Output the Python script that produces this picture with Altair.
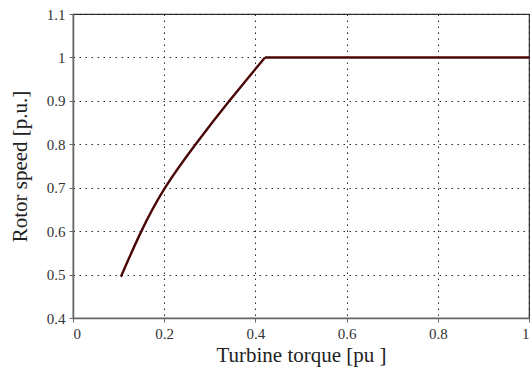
import altair as alt
import pandas as pd

# Rotor speed versus turbine torque (per unit)
ramp_torque = [0.105, 0.150, 0.202, 0.269, 0.343, 0.421]
ramp_speed = [0.495, 0.600, 0.700, 0.800, 0.900, 1.000]
flat_torque = [0.421, 0.60, 0.80, 1.0]
flat_speed = [1.000, 1.000, 1.000, 1.000]

x_ticks = [0, 0.2, 0.4, 0.6, 0.8, 1]
y_ticks = [0.4, 0.5, 0.6, 0.7, 0.8, 0.9, 1.0, 1.1]

ramp_df = pd.DataFrame({"torque": ramp_torque, "speed": ramp_speed})
flat_df = pd.DataFrame({"torque": flat_torque, "speed": flat_speed})

FONT = "Liberation Serif"
LINE_COLOR = "#4a0606"

x_enc = alt.X(
    "torque:Q",
    scale=alt.Scale(domain=[0, 1], nice=False, zero=False),
    axis=alt.Axis(
        values=x_ticks,
        format="~g",
        labelFont=FONT,
        title="Turbine torque [pu ]",
        titleFont=FONT,
        titleFontSize=21,
        titleFontWeight="normal",
        titleColor="#222",
        titlePadding=3,
    ),
)
y_enc = alt.Y(
    "speed:Q",
    scale=alt.Scale(domain=[0.4, 1.1], nice=False, zero=False),
    axis=alt.Axis(
        values=y_ticks,
        format="~g",
        labelFont=FONT,
        title="Rotor speed [p.u.]",
        titleFont=FONT,
        titleFontSize=21,
        titleFontWeight="normal",
        titleColor="#222",
        titlePadding=16,
    ),
)

ramp = (
    alt.Chart(ramp_df)
    .mark_line(color=LINE_COLOR, strokeWidth=2.4, interpolate="natural")
    .encode(x=x_enc, y=y_enc)
)
flat = (
    alt.Chart(flat_df)
    .mark_line(color=LINE_COLOR, strokeWidth=2.4)
    .encode(x="torque:Q", y="speed:Q")
)

chart = (
    alt.layer(ramp, flat)
    .properties(
        width=456,
        height=304,
        background="white",
        autosize=alt.AutoSizeParams(type="none"),
        padding={"left": 73, "top": 14, "right": 2, "bottom": 51},
    )
    .configure_view(stroke="#333", strokeWidth=1.2)
    .configure_axis(
        labelFont=FONT,
        labelFontSize=15,
        labelColor="#333",
        domainColor="#666",
        domainWidth=1.5,
        tickColor="#666",
        tickSize=4,
        labelPadding=4,
        grid=True,
        gridColor="#111",
        gridDash=[1.5, 4.5],
        gridWidth=1,
        gridOpacity=0.9,
    )
)

chart.save("out.html", embed_options={"renderer": "svg", "actions": False})
